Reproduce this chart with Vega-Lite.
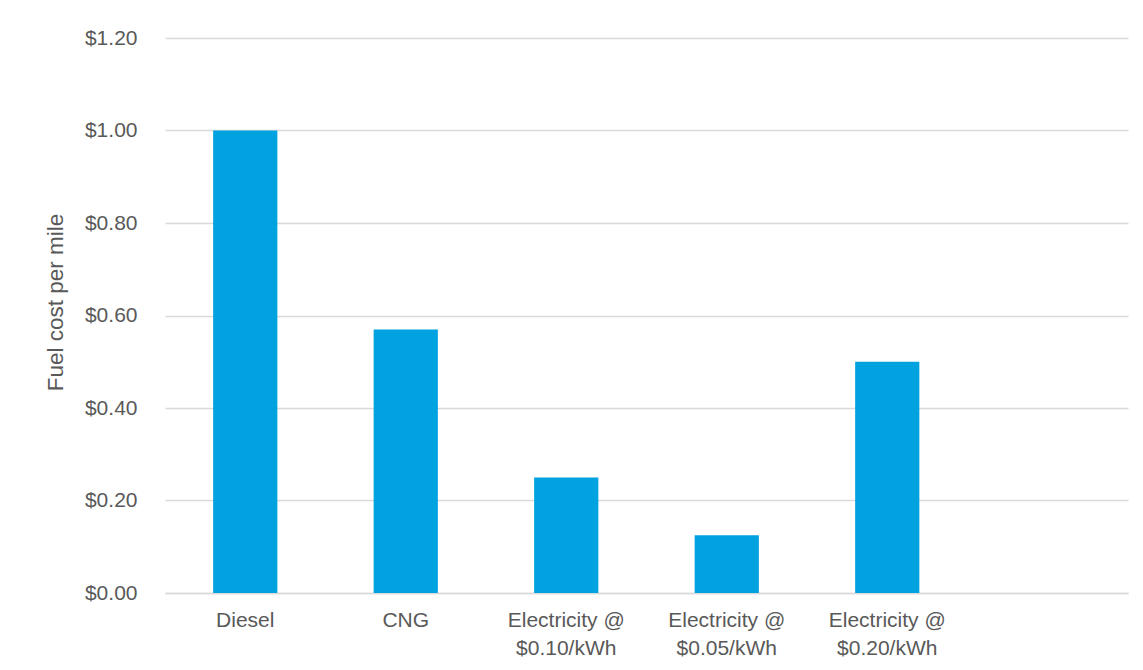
{
  "$schema": "https://vega.github.io/schema/vega-lite/v6.json",
  "width": 963,
  "height": 555,
  "autosize": {"type": "none"},
  "padding": {"left": 165, "top": 38, "right": 15, "bottom": 77},
  "background": "white",
  "config": {
    "view": {"stroke": null},
    "font": "Liberation Sans"
  },
  "data": {
    "values": [
      {"fuel": "Diesel", "cost": 1.0},
      {"fuel": "CNG", "cost": 0.57},
      {"fuel": "Electricity @|$0.10/kWh", "cost": 0.25},
      {"fuel": "Electricity @|$0.05/kWh", "cost": 0.125},
      {"fuel": "Electricity @|$0.20/kWh", "cost": 0.5}
    ]
  },
  "mark": {"type": "bar", "color": "#00A2E0"},
  "encoding": {
    "x": {
      "field": "fuel",
      "type": "nominal",
      "sort": null,
      "scale": {
        "domain": ["Diesel", "CNG", "Electricity @|$0.10/kWh", "Electricity @|$0.05/kWh", "Electricity @|$0.20/kWh", "blank"],
        "paddingInner": 0.6,
        "paddingOuter": 0.3
      },
      "axis": {
        "title": null,
        "labelAngle": 0,
        "ticks": false,
        "domainColor": "#d9d9d9",
        "domainWidth": 1.3,
        "labelColor": "#595959",
        "labelFontSize": 21,
        "labelPadding": 16,
        "labelLineHeight": 28,
        "labelBaseline": "top",
        "labelExpr": "datum.value == 'blank' ? '' : split(datum.value, '|')"
      }
    },
    "y": {
      "field": "cost",
      "type": "quantitative",
      "scale": {"domain": [0, 1.2]},
      "axis": {
        "title": "Fuel cost per mile",
        "values": [0, 0.2, 0.4, 0.6, 0.8, 1.0, 1.2],
        "format": "$.2f",
        "domain": false,
        "ticks": false,
        "gridColor": "#d9d9d9",
        "gridWidth": 1.3,
        "labelColor": "#595959",
        "labelFontSize": 21,
        "labelPadding": 28,
        "titleColor": "#595959",
        "titleFontSize": 22.5,
        "titleFontWeight": "normal",
        "titlePadding": 17,
        "titleY": 264
      }
    }
  }
}
